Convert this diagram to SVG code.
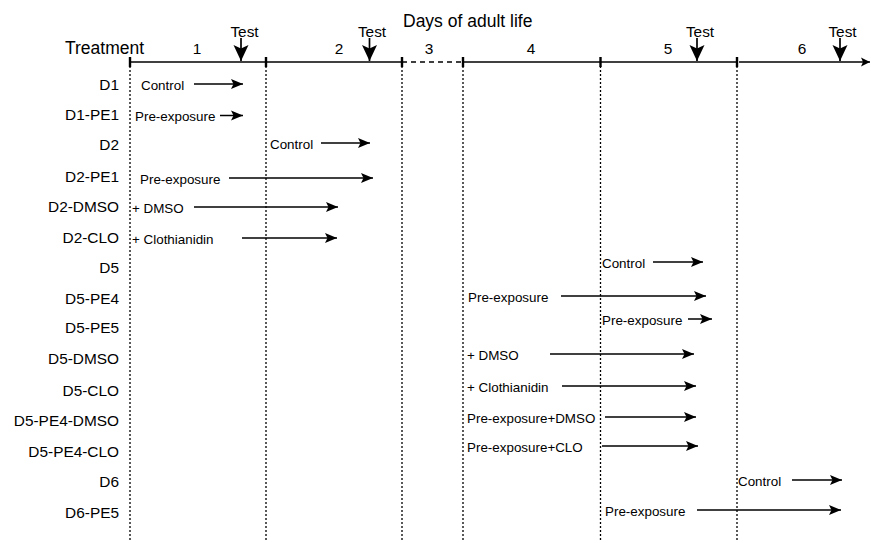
<svg xmlns="http://www.w3.org/2000/svg" width="871" height="543" viewBox="0 0 871 543">
<defs>
<style>
text{font-family:"Liberation Sans",Arial,sans-serif;fill:#000}
.hdr{font-size:17.5px}
.lbl{font-size:15.4px;text-anchor:end}
.num{font-size:15.4px;text-anchor:middle}
.test{font-size:15.4px;text-anchor:middle}
.in{font-size:13.4px}
.arr{stroke:#000;stroke-width:1.5;fill:none;marker-end:url(#ah)}
.tarr{stroke:#000;stroke-width:1.7;fill:none;marker-end:url(#th)}
.vd{stroke:#000;stroke-width:1.3;stroke-dasharray:2 2;fill:none}
.ax{stroke:#000;stroke-width:1.6;fill:none}
.tick{stroke:#000;stroke-width:2.4}
</style>
<marker id="ah" markerUnits="userSpaceOnUse" markerWidth="13" markerHeight="11" refX="12" refY="5" orient="auto" overflow="visible">
<path d="M0,0 L12,5 L0,10 L2.5,5 Z" fill="#000"/>
</marker>
<marker id="th" markerUnits="userSpaceOnUse" markerWidth="17" markerHeight="16" refX="16" refY="7.5" orient="auto" overflow="visible">
<path d="M0,0 L16,7.5 L0,15 L3.5,7.5 Z" fill="#000"/>
</marker>
<marker id="axh" markerUnits="userSpaceOnUse" markerWidth="10" markerHeight="10" refX="9" refY="4.5" orient="auto" overflow="visible">
<path d="M0,0 L9,4.5 L0,9 L2,4.5 Z" fill="#000"/>
</marker>
</defs>
<rect width="871" height="543" fill="#fff"/>
<g id="timeline">
<text class="hdr" x="65" y="54">Treatment</text>
<text class="hdr" x="403" y="26.5">Days of adult life</text>
<text class="num" x="197" y="53.5">1</text>
<text class="num" x="339" y="53.5">2</text>
<text class="num" x="429" y="53.5">3</text>
<text class="num" x="531" y="53.5">4</text>
<text class="num" x="668" y="53.5">5</text>
<text class="num" x="802" y="53.5">6</text>
<line class="ax" x1="130" y1="62" x2="402" y2="62"/>
<line class="ax" x1="402" y1="62" x2="463" y2="62" stroke-dasharray="5 4"/>
<line class="ax" x1="463" y1="62" x2="737" y2="62"/>
<line class="ax" x1="739" y1="62" x2="870" y2="62" marker-end="url(#axh)"/>
<line class="tick" x1="130" y1="57" x2="130" y2="67"/>
<line class="tick" x1="266" y1="57" x2="266" y2="67"/>
<line class="tick" x1="402" y1="57" x2="402" y2="67"/>
<line class="tick" x1="463" y1="57" x2="463" y2="67"/>
<line class="tick" x1="600.5" y1="57" x2="600.5" y2="67"/>
<line class="tick" x1="737" y1="57" x2="737" y2="67"/>
<line class="vd" x1="130" y1="66" x2="130" y2="541"/>
<line class="vd" x1="266" y1="66" x2="266" y2="541"/>
<line class="vd" x1="402" y1="66" x2="402" y2="541"/>
<line class="vd" x1="463" y1="66" x2="463" y2="541"/>
<line class="vd" x1="600.5" y1="66" x2="600.5" y2="541"/>
<line class="vd" x1="737" y1="66" x2="737" y2="541"/>
<text class="test" x="244.5" y="36.5">Test</text>
<text class="test" x="372" y="36.5">Test</text>
<text class="test" x="700" y="36.5">Test</text>
<text class="test" x="842.5" y="36.5">Test</text>
<line class="tarr" x1="241" y1="38" x2="241" y2="61"/>
<line class="tarr" x1="369.5" y1="38" x2="369.5" y2="61"/>
<line class="tarr" x1="697" y1="38" x2="697" y2="61"/>
<line class="tarr" x1="840" y1="38" x2="840" y2="61"/>
</g>
<g id="D1"><text class="lbl" x="119" y="90">D1</text><text class="in" x="141" y="89.5">Control</text></g>
<g id="D1-PE1"><text class="lbl" x="119" y="120">D1-PE1</text><text class="in" x="135" y="121">Pre-exposure</text></g>
<g id="D2"><text class="lbl" x="119" y="150">D2</text><text class="in" x="270" y="148.5">Control</text></g>
<g id="D2-PE1"><text class="lbl" x="119" y="182">D2-PE1</text><text class="in" x="140" y="183.5">Pre-exposure</text></g>
<g id="D2-DMSO"><text class="lbl" x="119" y="212">D2-DMSO</text><text class="in" x="132" y="212.5">+ DMSO</text></g>
<g id="D2-CLO"><text class="lbl" x="119" y="243">D2-CLO</text><text class="in" x="132" y="243.5">+ Clothianidin</text></g>
<g id="D5"><text class="lbl" x="119" y="273">D5</text><text class="in" x="602" y="267.5">Control</text></g>
<g id="D5-PE4"><text class="lbl" x="119" y="304">D5-PE4</text><text class="in" x="468" y="301.5">Pre-exposure</text></g>
<g id="D5-PE5"><text class="lbl" x="119" y="333">D5-PE5</text><text class="in" x="602" y="324.5">Pre-exposure</text></g>
<g id="D5-DMSO"><text class="lbl" x="119" y="364">D5-DMSO</text><text class="in" x="467" y="359.5">+ DMSO</text></g>
<g id="D5-CLO"><text class="lbl" x="119" y="396">D5-CLO</text><text class="in" x="467" y="391.5">+ Clothianidin</text></g>
<g id="D5-PE4-DMSO"><text class="lbl" x="119" y="426">D5-PE4-DMSO</text><text class="in" x="467" y="422.5">Pre-exposure+DMSO</text></g>
<g id="D5-PE4-CLO"><text class="lbl" x="119" y="457">D5-PE4-CLO</text><text class="in" x="467" y="451.5">Pre-exposure+CLO</text></g>
<g id="D6"><text class="lbl" x="119" y="487">D6</text><text class="in" x="738" y="485.5">Control</text></g>
<g id="D6-PE5"><text class="lbl" x="119" y="518">D6-PE5</text><text class="in" x="605" y="515.5">Pre-exposure</text></g>
<g id="connectors">
<line class="arr" x1="194" y1="84" x2="243" y2="84"/>
<line class="arr" x1="220" y1="115.5" x2="243" y2="115.5"/>
<line class="arr" x1="321" y1="143" x2="370" y2="143"/>
<line class="arr" x1="229" y1="178" x2="373" y2="178"/>
<line class="arr" x1="194" y1="207" x2="338" y2="207"/>
<line class="arr" x1="242" y1="238" x2="337" y2="238"/>
<line class="arr" x1="653" y1="262" x2="703" y2="262"/>
<line class="arr" x1="561" y1="296" x2="706" y2="296"/>
<line class="arr" x1="688" y1="319" x2="712" y2="319"/>
<line class="arr" x1="550" y1="354" x2="694" y2="354"/>
<line class="arr" x1="562" y1="386" x2="696" y2="386"/>
<line class="arr" x1="605" y1="417" x2="696" y2="417"/>
<line class="arr" x1="602" y1="446" x2="698" y2="446"/>
<line class="arr" x1="792" y1="480" x2="842" y2="480"/>
<line class="arr" x1="697" y1="510" x2="841" y2="510"/>
</g>
</svg>
